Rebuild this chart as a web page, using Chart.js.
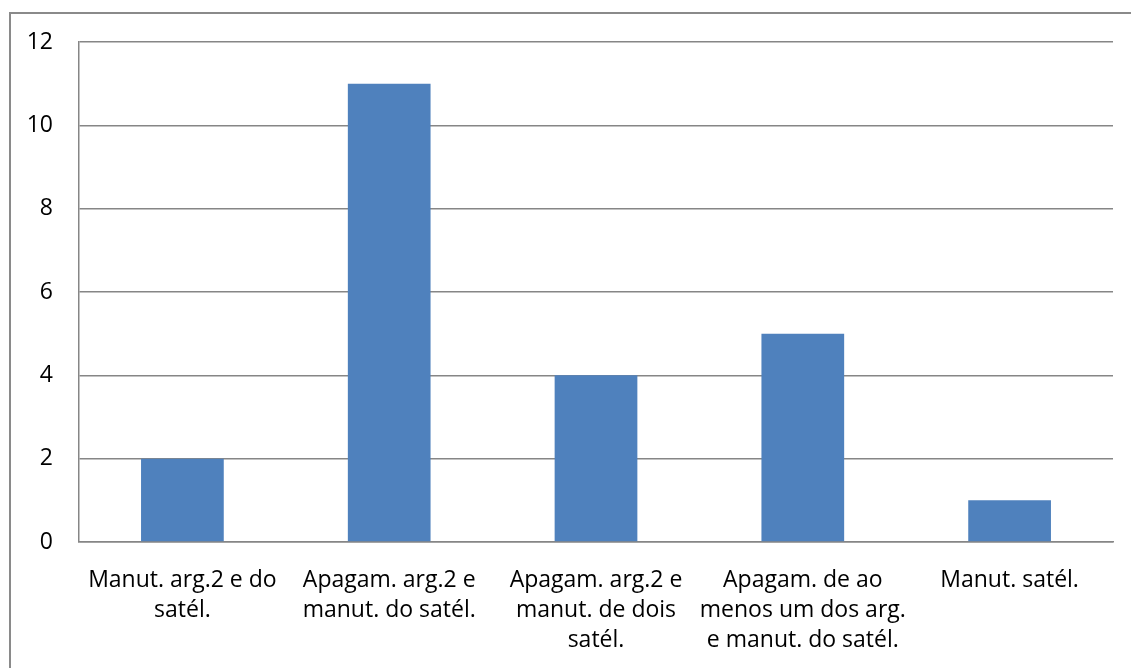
<!DOCTYPE html>
<html>
<head>
<meta charset="utf-8">
<script src="https://cdn.jsdelivr.net/npm/chart.js@4/dist/chart.umd.min.js"></script>
<style>
  html, body { margin: 0; padding: 0; background: #fff; }
  #wrap { width: 1131px; height: 668px; position: relative; }
</style>
</head>
<body>
<div id="wrap"><canvas id="myBarChart" width="1131" height="668"></canvas></div>
<script>
// categorias (quebradas em linhas como no eixo)
const categorias = [
    ['Manut. arg.2 e do', 'satél.'],
    ['Apagam. arg.2 e', 'manut. do satél.'],
    ['Apagam. arg.2 e', 'manut. de dois', 'satél.'],
    ['Apagam. de ao', 'menos um dos arg.', 'e manut. do satél.'],
    ['Manut. satél.']
];
const valores = [2, 11, 4, 5, 1];
const ticksY = [0, 2, 4, 6, 8, 10, 12];

const fonte = { family: '"Open Sans", sans-serif', size: 23, lineHeight: 1.3 };

// moldura externa do grafico
const moldura = {
    id: 'moldura',
    beforeDraw(chart) {
        const c = chart.ctx;
        c.save();
        c.strokeStyle = '#8a8a8a';
        c.lineWidth = 2;
        c.strokeRect(10, 13, 1200, 800);
        c.restore();
    }
};

const ctx = document.getElementById('myBarChart').getContext('2d');
new Chart(ctx, {
    type: 'bar',
    data: {
        labels: categorias,
        datasets: [{
            data: valores,
            backgroundColor: '#4f81bd',
            borderWidth: 0,
            categoryPercentage: 1,
            barPercentage: 0.4
        }]
    },
    options: {
        responsive: false,
        animation: false,
        layout: { padding: { top: 42, right: 18, left: 0, bottom: 0 } },
        plugins: {
            legend: { display: false },
            tooltip: { enabled: false }
        },
        scales: {
            x: {
                grid: { display: false },
                border: { display: true, color: '#868686', width: 1.5 },
                ticks: {
                    color: '#000',
                    font: fonte,
                    padding: 16,
                    maxRotation: 0,
                    autoSkip: false
                },
                afterFit(scale) { scale.height = 126; }
            },
            y: {
                min: 0,
                max: 12,
                afterBuildTicks(scale) { scale.ticks = ticksY.map(v => ({ value: v })); },
                grid: { color: '#868686', lineWidth: 1.5, drawTicks: false },
                border: { display: true, color: '#868686', width: 1.5 },
                ticks: { color: '#000', font: fonte, padding: 26 },
                afterFit(scale) { scale.width = 79; }
            }
        }
    },
    plugins: [moldura]
});
</script>
</body>
</html>
